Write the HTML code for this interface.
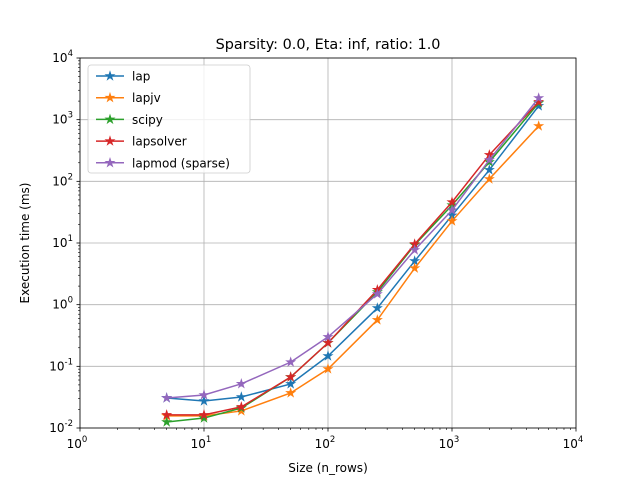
<!DOCTYPE html>
<html><head><meta charset="utf-8"><style>
body{margin:0;background:#fff}
svg{font-family:"DejaVu Sans","Liberation Sans",sans-serif}
</style></head><body>
<svg id="chart" width="640" height="480" viewBox="0 0 640 480" xmlns="http://www.w3.org/2000/svg">
<rect width="640" height="480" fill="#fff"/>
<g id="grid"></g><g id="ticks"></g><g id="series"></g>
<rect x="80" y="58" width="496" height="370" fill="none" stroke="#000" stroke-width="0.8"/>
<text x="328" y="49" font-size="14.4" text-anchor="middle">Sparsity: 0.0, Eta: inf, ratio: 1.0</text>
<text x="328" y="472" font-size="12" text-anchor="middle">Size (n_rows)</text>
<text x="29" y="243" font-size="12" text-anchor="middle" transform="rotate(-90 29 243)">Execution time (ms)</text>
<g id="legend"></g>
</svg>
<script>
const sizes=[5,10,20,50,100,250,500,1000,2000,5000];
const seriesNames=["lap","lapjv","scipy","lapsolver","lapmod (sparse)"];
const colors=["#1f77b4","#ff7f0e","#2ca02c","#d62728","#9467bd"];
const lapVals=[0.0307,0.0274,0.0318,0.0518,0.147,0.88,5.1,28,153,1670];
const lapjvVals=[0.0157,0.0157,0.0189,0.037,0.0906,0.565,3.9,22.7,109,789];
const scipyVals=[0.0125,0.0145,0.0211,0.067,0.24,1.6,9.3,41,206,1862];
const lapsolverVals=[0.0163,0.0163,0.022,0.067,0.24,1.74,9.6,46,268,1940];
const lapmodVals=[0.0307,0.0343,0.052,0.117,0.30,1.49,7.7,34,222,2244];
const xTickExps=[0,1,2,3,4];
const yTickExps=[-2,-1,0,1,2,3,4];
const NS="http://www.w3.org/2000/svg";
const X0=80,X1=576,Y0=428,Y1=58;
const xs=v=>X0+(Math.log10(v)-0)/4*(X1-X0);
const ys=v=>Y0-(Math.log10(v)+2)/6*(Y0-Y1);
function mk(t,a,p){const e=document.createElementNS(NS,t);for(const k in a)e.setAttribute(k,a[k]);p.appendChild(e);return e;}
const grid=document.getElementById('grid'),ticks=document.getElementById('ticks');
function label(x,y,exp,anchor,name){
  const t=mk('text',{x:x,y:y,'font-size':'12','text-anchor':anchor},ticks);
  
  
  const a=mk('tspan',{},t);a.textContent='10';
  const b=mk('tspan',{dy:'-6','font-size':'8.5'},t);b.textContent=String(exp);
}
xTickExps.forEach(e=>{const x=xs(Math.pow(10,e));
  const g=mk('line',{x1:x,x2:x,y1:Y1,y2:Y0,stroke:'#b0b0b0','stroke-width':0.8},grid);
  
  
  mk('line',{x1:x,x2:x,y1:Y0,y2:Y0+3.5,stroke:'#000','stroke-width':0.8},ticks);
  label(x-3,Y0+20,e,'middle','x-tick-label');
  if(e<4)for(let m=2;m<10;m++){const xm=xs(m*Math.pow(10,e));mk('line',{x1:xm,x2:xm,y1:Y0,y2:Y0+2,stroke:'#000','stroke-width':0.6},ticks);}
});
yTickExps.forEach(e=>{const y=ys(Math.pow(10,e));
  const g=mk('line',{x1:X0,x2:X1,y1:y,y2:y,stroke:'#b0b0b0','stroke-width':0.8},grid);
  
  
  mk('line',{x1:X0-3.5,x2:X0,y1:y,y2:y,stroke:'#000','stroke-width':0.8},ticks);
  label(X0-7,y+4,e,'end','y-tick-label');
  if(e<4)for(let m=2;m<10;m++){const ym=ys(m*Math.pow(10,e));mk('line',{x1:X0-2,x2:X0,y1:ym,y2:ym,stroke:'#000','stroke-width':0.6},ticks);}
});
function star(cx,cy,r,p,color){let pts=[];for(let i=0;i<10;i++){const rr=i%2?r*0.38:r;const a=-Math.PI/2+i*Math.PI/5;pts.push((cx+rr*Math.cos(a)).toFixed(2)+','+(cy+rr*Math.sin(a)).toFixed(2));}
  const s=mk('polygon',{points:pts.join(' '),fill:color,stroke:color,'stroke-width':0.8},p);
  
  }
const all=[lapVals,lapjvVals,scipyVals,lapsolverVals,lapmodVals];
const sg=document.getElementById('series');
all.forEach((vals,i)=>{
  const g=mk('g',{},sg);
  
  
  const pts=vals.map((v,j)=>xs(sizes[j]).toFixed(2)+','+ys(v).toFixed(2)).join(' ');
  mk('polyline',{points:pts,fill:'none',stroke:colors[i],'stroke-width':1.5},g);
  vals.forEach((v,j)=>star(xs(sizes[j]),ys(v),4.5,g,colors[i]));
});
const lg=document.getElementById('legend');
const box=mk('rect',{x:88,y:65,width:162,height:108,rx:3,fill:'#fff','fill-opacity':0.8,stroke:'#ccc','stroke-width':0.8},lg);


seriesNames.forEach((n,i)=>{const y=76+i*21.7;
  const g=mk('g',{},lg);
  
  
  mk('line',{x1:96,x2:124,y1:y,y2:y,stroke:colors[i],'stroke-width':1.5},g);
  star(110,y,4.5,g,colors[i]);
  const t=mk('text',{x:132,y:y+4.5,'font-size':'12'},g);t.textContent=n;
});
</script>
</body></html>
